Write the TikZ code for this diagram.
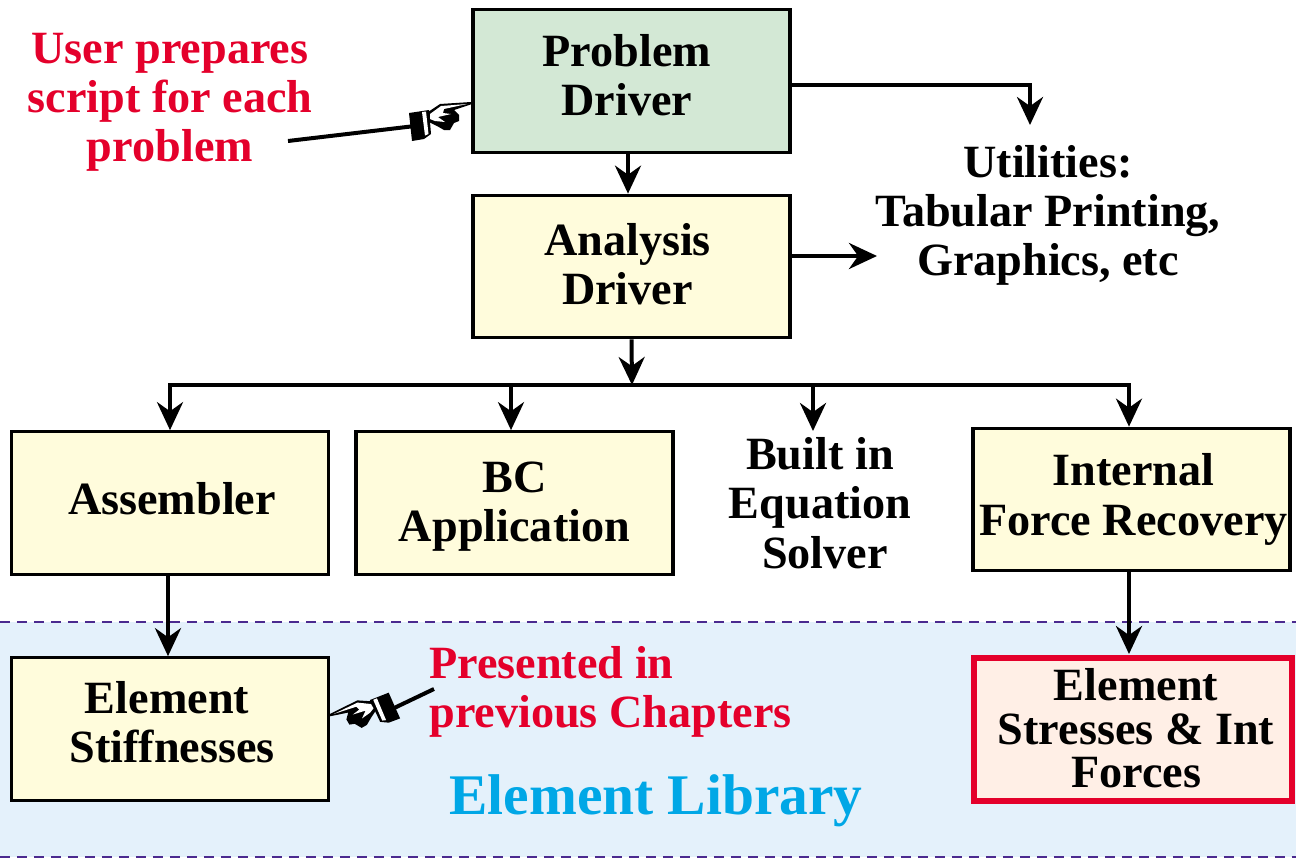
\documentclass[tikz,border=0pt]{standalone}
\usepackage{fontspec}
\setmainfont{Liberation Serif}
\usetikzlibrary{arrows.meta}
\definecolor{boxgreen}{HTML}{D3E8D5}
\definecolor{boxyellow}{HTML}{FFFCDC}
\definecolor{boxpink}{HTML}{FFEFE6}
\definecolor{libblue}{HTML}{E4F1FB}
\definecolor{libline}{HTML}{4B2A8F}
\definecolor{notered}{HTML}{E4002B}
\definecolor{libcyan}{HTML}{00A7E6}
\newcommand{\nudge}[3]{\raisebox{\dimexpr#2-.25em-.1cm\relax}[0pt][0pt]{\makebox[0pt]{\hspace*{2\dimexpr#1\relax}\begin{tabular}{@{}c@{}}#3\end{tabular}}}}
\tikzset{
  >={Stealth[length=.56cm,width=.52cm]},
  wire/.style={line width=.08cm},
  box/.style={draw=black,line width=.065cm,fill=boxyellow,minimum width=6.34cm,minimum height=2.85cm,
    inner sep=0pt,align=center,font=\fontsize{26.3}{28}\selectfont\bfseries},
  plain/.style={inner sep=0pt,align=center,font=\fontsize{26.3}{28}\selectfont\bfseries},
  note/.style={plain,text=notered},
  libedge/.style={libline,line width=.035cm,dash pattern=on .2cm off .14cm},
  hand/.pic={
    \fill[black] (-62,10) -- (-42,7) -- (-40,31) -- (-47,36) -- (-59,38) -- cycle;
    \fill[white] (-49,9) -- (-45,8.5) -- (-42.5,31) -- (-46,32.5) -- cycle;
    \fill[black] (-43,9) -- (-31,1) -- (0,-1) -- (1,1) -- (-17,7) -- (-12,12) -- (-12,18) -- (-17,20)
      -- (-21,27) -- (-27,27) -- (-34,23) -- (-42,19) -- cycle;
    \fill[white] (-41,11) -- (-30,3) -- (-4,1) -- (-27,6) -- (-28,10) -- (-20,11) -- (-33,14)
      -- (-26,19) -- (-36,18) -- (-41,16) -- cycle;
  }
}

\begin{document}
\begin{tikzpicture}[x=.02cm,y=-.02cm]
  \useasboundingbox (0,0) rectangle (1296,859);
  % library band
  \fill[libblue] (0,622) rectangle (1296,857);
  \draw[libedge] (0,622) -- (1296,622);
  \draw[libedge] (0,857) -- (1296,857);
  % boxes
  \node[box,fill=boxgreen] (problem) at (631.5,81) {\nudge{-.09cm}{.11cm}{Problem\\Driver}};
  \node[box] (analysis) at (631.5,266.5) {\nudge{-.08cm}{.04cm}{Analysis\\Driver}};
  \node[box] (assembler) at (170,503) {\nudge{.04cm}{.08cm}{Assembler}};
  \node[box] (bcapp) at (514.5,503) {\nudge{0cm}{.03cm}{BC\\Application}};
  \node[box] (internal) at (1131.5,499.5) {\nudge{.04cm}{.09cm}{Internal\\Force Recovery}};
  \node[box] (stiffness) at (170,729) {\nudge{.04cm}{.13cm}{Element\hspace*{.2cm}\\Stiffnesses}};
  \node[box,draw=notered,line width=.12cm,fill=boxpink,minimum width=6.37cm,minimum height=2.86cm,
    font=\fontsize{26.3}{24.2}\selectfont\bfseries] (stresses) at (1133,729.5) {\nudge{.06cm}{.02cm}{Element\\Stresses \& Int\\Forces}};
  % plain text
  \node[plain] (utilities) at (1048,215.5) {Utilities:\\Tabular Printing,\\Graphics, etc};
  \node[plain] (solver) at (820,503) {Built in\\Equation\\\hspace*{.2cm}Solver};
  \node[note] (userscript) at (170,102) {User prepares\\script for each\\problem};
  \node[note,align=left,anchor=west] (presented) at (429,692) {Presented in\\previous Chapters};
  \node[plain,text=libcyan,font=\fontsize{32.7}{36}\selectfont\bfseries] (library) at (656,801) {Element Library};
  % connectors
  \coordinate (bus) at (632,385);
  \coordinate (utiltop) at (1030,125);
  \coordinate (utilleft) at (877,256);
  \coordinate (solvertop) at (813,431);
  \draw[wire,->] ([xshift=-.07cm]problem.south) -- ([xshift=-.07cm]analysis.north);
  \draw[wire,->] ([yshift=-.08cm]problem.east) -| (utiltop);
  \draw[wire,->] (analysis.east |- utilleft) -- (utilleft);
  \draw[wire,->] (analysis.south) -- (bus);
  \draw[wire,->] (bus) -| (assembler.north);
  \draw[wire,->] (bus) -| ([xshift=-.07cm]bcapp.north);
  \draw[wire,->] (bus) -| (solvertop);
  \draw[wire,->] (bus) -| ([xshift=-.05cm]internal.north);
  \draw[wire,->] ([xshift=-.04cm]assembler.south) -- ([xshift=-.04cm]stiffness.north);
  \draw[wire,->] ([xshift=-.05cm]internal.south) -- ([xshift=-.05cm,yshift=.02cm]internal.south |- stresses.north);
  % pointing hands
  \coordinate (tipa) at (471,103);
  \coordinate (taila) at (288,141);
  \coordinate (tipb) at (330,715);
  \coordinate (tailb) at (434,689);
  \draw[wire] (taila) -- (415,126);
  \draw[wire] (tailb) -- (390,710);
  \pic at (tipa) {hand};
  \pic[rotate=30,xscale=-1] at (tipb) {hand};
\end{tikzpicture}
\end{document}
